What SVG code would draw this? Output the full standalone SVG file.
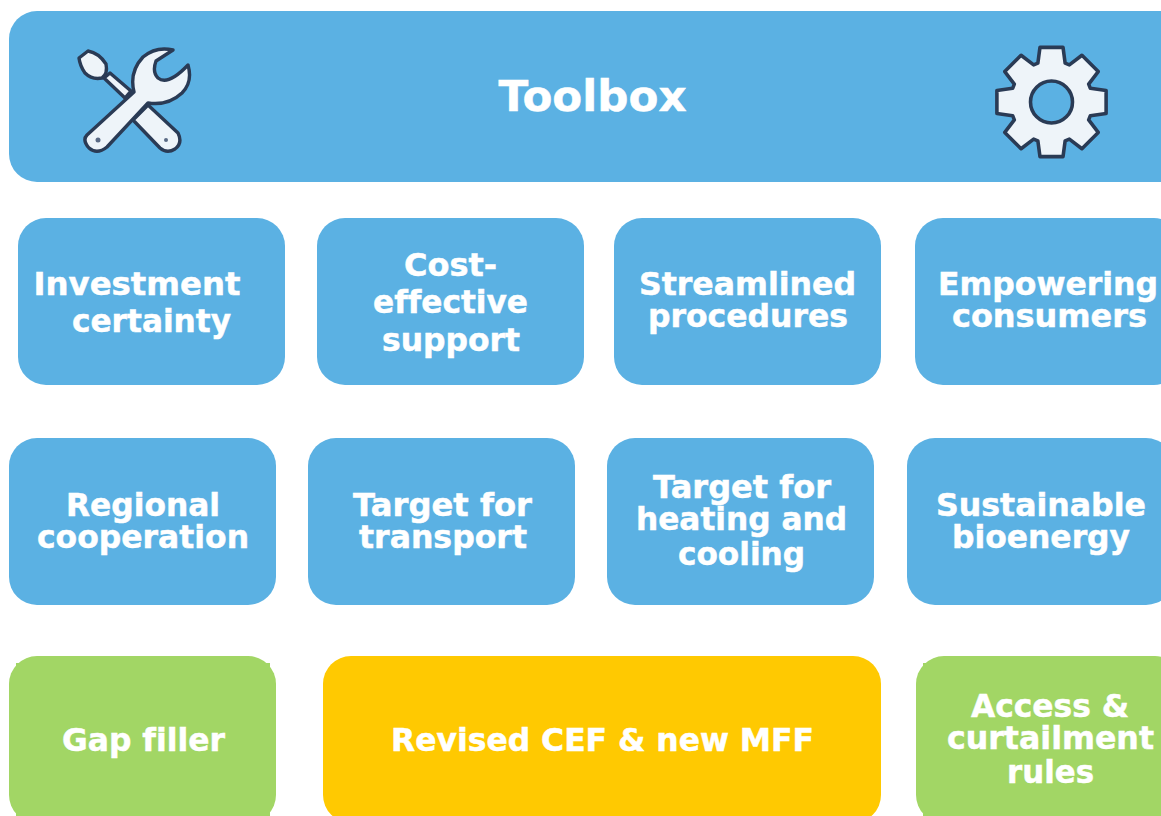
<svg xmlns="http://www.w3.org/2000/svg" width="1161" height="816" viewBox="0 0 1161 816">
<defs><filter id="soft" x="-5%" y="-5%" width="110%" height="110%"><feGaussianBlur stdDeviation="0.7"/></filter></defs>
<style>
.b{fill:#5bb1e3}
.g{fill:#a2d665}
.y{fill:#ffc901}
text{font-family:"DejaVu Sans","Liberation Sans",sans-serif;font-weight:700;fill:#fff;stroke:#fff;stroke-width:.5px;font-size:32px;text-anchor:middle;font-variant-ligatures:none}
.ic{fill:#eef4f9;stroke:#2a3a55;stroke-width:3.4;stroke-linejoin:round}
</style>
<rect width="1161" height="816" fill="#fff"/>
<g id="toolbox">
<rect class="b" x="9" y="11" width="1200" height="171" rx="28"/>
<text x="592.500" y="111" style="font-size:43px" textLength="188" lengthAdjust="spacingAndGlyphs">Toolbox</text>
</g>
<g id="icon-tools" filter="url(#soft)">
<path class="ic" d="M104 78 L110 73 L131 91 L125 98 Z"/>
<path class="ic" d="M79 58 L88 51 Q99 53 106 64 Q108 74 102 78 Q92 80 85 73 Q80 66 79 58 Z"/>
<path class="ic" d="M133 120 L148 105 L178 133 Q183 143 175 149 Q167 154 160 148 Z"/>
<path class="ic" d="M134 92 Q129 72 143 57 Q156 46 173 50 L156 61 Q152 72 158 78 Q168 86 188 65 Q193 82 182 93 Q168 106 148 103 L107 147 Q97 155 89 148 Q82 140 87 135 Z"/>
<circle cx="98" cy="140" r="2.500" fill="#5a6b85"/>
<circle cx="166" cy="140" r="2" fill="#5a6b85"/>
</g>
<g id="icon-gear" filter="url(#soft)">
<g transform="translate(1051.500 102) scale(1.05)">
<path class="ic" fill-rule="evenodd" d="M-13 -37L-11 -52L11 -52L13 -37L17 -35.400L29 -44.500L44.500 -29L35.400 -17L37 -13L52 -11L52 11L37 13L35.400 17L44.500 29L29 44.500L17 35.400L13 37L11 52L-11 52L-13 37L-17 35.400L-29 44.500L-44.500 29L-35.400 17L-37 13L-52 11L-52 -11L-37 -13L-35.400 -17L-44.500 -29L-29 -44.500L-17 -35.400ZM20 0A20 20 0 1 0 -20 0A20 20 0 1 0 20 0Z"/>
</g>
</g>
<g id="investment-certainty">
<rect class="b" x="18" y="218" width="267" height="167" rx="28"/>
<text x="137" y="295" textLength="207" lengthAdjust="spacingAndGlyphs">Investment</text>
<text x="151.500" y="332" textLength="159" lengthAdjust="spacingAndGlyphs">certainty</text>
</g>
<g id="cost-effective-support">
<rect class="b" x="317" y="218" width="267" height="167" rx="28"/>
<text x="450.500" y="276" textLength="93" lengthAdjust="spacingAndGlyphs">Cost-</text>
<text x="450.500" y="313" textLength="155" lengthAdjust="spacingAndGlyphs">effective</text>
<text x="451" y="351" textLength="138" lengthAdjust="spacingAndGlyphs">support</text>
</g>
<g id="streamlined-procedures">
<rect class="b" x="614" y="218" width="267" height="167" rx="28"/>
<text x="747.500" y="295" textLength="217" lengthAdjust="spacingAndGlyphs">Streamlined</text>
<text x="748" y="327" textLength="200" lengthAdjust="spacingAndGlyphs">procedures</text>
</g>
<g id="empowering-consumers">
<rect class="b" x="915" y="218" width="267" height="167" rx="28"/>
<text x="1048" y="295" textLength="220" lengthAdjust="spacingAndGlyphs">Empowering</text>
<text x="1049.500" y="327" textLength="195" lengthAdjust="spacingAndGlyphs">consumers</text>
</g>
<g id="regional-cooperation">
<rect class="b" x="9" y="438" width="267" height="167" rx="28"/>
<text x="143" y="516" textLength="154" lengthAdjust="spacingAndGlyphs">Regional</text>
<text x="143" y="548" textLength="212" lengthAdjust="spacingAndGlyphs">cooperation</text>
</g>
<g id="target-transport">
<rect class="b" x="308" y="438" width="267" height="167" rx="28"/>
<text x="442.500" y="516" textLength="179" lengthAdjust="spacingAndGlyphs">Target for</text>
<text x="443" y="548" textLength="168" lengthAdjust="spacingAndGlyphs">transport</text>
</g>
<g id="target-heating-cooling">
<rect class="b" x="607" y="438" width="267" height="167" rx="28"/>
<text x="742" y="498" textLength="178" lengthAdjust="spacingAndGlyphs">Target for</text>
<text x="741.500" y="530" textLength="211" lengthAdjust="spacingAndGlyphs">heating and</text>
<text x="741.500" y="565" textLength="127" lengthAdjust="spacingAndGlyphs">cooling</text>
</g>
<g id="sustainable-bioenergy">
<rect class="b" x="907" y="438" width="267" height="167" rx="28"/>
<text x="1041" y="516" textLength="210" lengthAdjust="spacingAndGlyphs">Sustainable</text>
<text x="1041" y="548" textLength="178" lengthAdjust="spacingAndGlyphs">bioenergy</text>
</g>
<g id="gap-filler">
<rect class="g" x="9" y="656" width="267" height="167" rx="28"/>
<rect class="g" x="16" y="663" width="254" height="153"/>
<text x="143.500" y="751" textLength="163" lengthAdjust="spacingAndGlyphs">Gap filler</text>
</g>
<g id="revised-cef-mff">
<rect class="y" x="323" y="656" width="558" height="167" rx="28"/>
<text x="602.500" y="751" textLength="423" lengthAdjust="spacingAndGlyphs">Revised CEF &amp; new MFF</text>
</g>
<g id="access-curtailment">
<rect class="g" x="916" y="656" width="267" height="167" rx="28"/>
<rect class="g" x="923" y="663" width="254" height="153"/>
<text x="1050" y="717" textLength="158" lengthAdjust="spacingAndGlyphs">Access &amp;</text>
<text x="1050.500" y="749" textLength="207" lengthAdjust="spacingAndGlyphs">curtailment</text>
<text x="1050.500" y="783" textLength="87" lengthAdjust="spacingAndGlyphs">rules</text>
</g>
</svg>
